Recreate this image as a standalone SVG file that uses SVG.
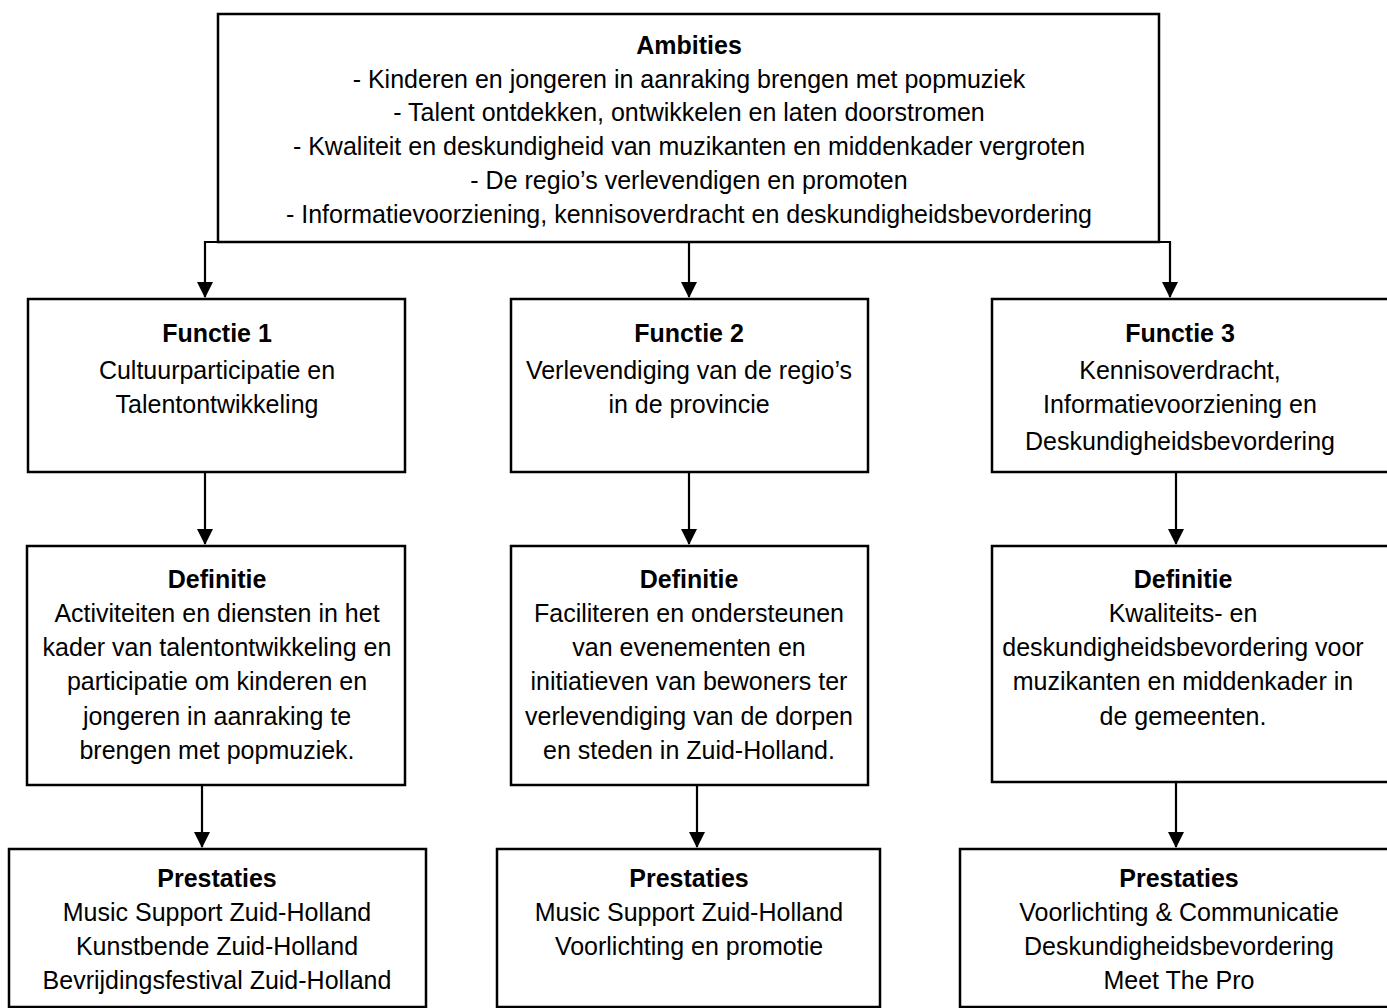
<svg xmlns="http://www.w3.org/2000/svg" width="1387" height="1008" viewBox="0 0 1387 1008">
<defs>
<marker id="ah" markerWidth="16" markerHeight="16" refX="15" refY="8" orient="auto" markerUnits="userSpaceOnUse">
<path d="M0,0 L16,8 L0,16 Z" fill="#000"/>
</marker>
<style>
.box{fill:#fff;stroke:#000;stroke-width:2.5}
.t{font-family:"Liberation Sans",Arial,sans-serif;font-size:25px;fill:#000;text-anchor:middle}
.b{font-weight:bold}
.c{fill:none;stroke:#000;stroke-width:2.2}
</style>
</defs>
<rect width="1387" height="1008" fill="#fff"/>
<g id="connectors">
<path class="c" d="M218,242 H205 V297" marker-end="url(#ah)"/>
<path class="c" d="M689,242 V297" marker-end="url(#ah)"/>
<path class="c" d="M1159,242 H1170 V297" marker-end="url(#ah)"/>
<path class="c" d="M205,472 V544" marker-end="url(#ah)"/>
<path class="c" d="M689,472 V544" marker-end="url(#ah)"/>
<path class="c" d="M1176,472 V544" marker-end="url(#ah)"/>
<path class="c" d="M202,785 V847" marker-end="url(#ah)"/>
<path class="c" d="M697,785 V847" marker-end="url(#ah)"/>
<path class="c" d="M1176,782 V847" marker-end="url(#ah)"/>
</g>
<g id="ambities">
<rect class="box" x="218" y="14" width="941" height="228"/>
<text class="t b" x="689" y="54">Ambities</text>
<text class="t" x="689" y="88">- Kinderen en jongeren in aanraking brengen met popmuziek</text>
<text class="t" x="689" y="121">- Talent ontdekken, ontwikkelen en laten doorstromen</text>
<text class="t" x="689" y="155">- Kwaliteit en deskundigheid van muzikanten en middenkader vergroten</text>
<text class="t" x="689" y="189">- De regio’s verlevendigen en promoten</text>
<text class="t" x="689" y="223">- Informatievoorziening, kennisoverdracht en deskundigheidsbevordering</text>
</g>
<g id="functie1">
<rect class="box" x="28" y="299" width="377" height="173"/>
<text class="t b" x="217" y="342">Functie 1</text>
<text class="t" x="217" y="379">Cultuurparticipatie en</text>
<text class="t" x="217" y="413">Talentontwikkeling</text>
</g>
<g id="functie2">
<rect class="box" x="511" y="299" width="357" height="173"/>
<text class="t b" x="689" y="342">Functie 2</text>
<text class="t" x="689" y="379">Verlevendiging van de regio’s</text>
<text class="t" x="689" y="413">in de provincie</text>
</g>
<g id="functie3">
<rect class="box" x="992" y="299" width="400" height="173"/>
<text class="t b" x="1180" y="342">Functie 3</text>
<text class="t" x="1180" y="379">Kennisoverdracht,</text>
<text class="t" x="1180" y="413">Informatievoorziening en</text>
<text class="t" x="1180" y="450">Deskundigheidsbevordering</text>
</g>
<g id="definitie1">
<rect class="box" x="27" y="546" width="378" height="239"/>
<text class="t b" x="217" y="588">Definitie</text>
<text class="t" x="217" y="622">Activiteiten en diensten in het</text>
<text class="t" x="217" y="656">kader van talentontwikkeling en</text>
<text class="t" x="217" y="690">participatie om kinderen en</text>
<text class="t" x="217" y="725">jongeren in aanraking te</text>
<text class="t" x="217" y="759">brengen met popmuziek.</text>
</g>
<g id="definitie2">
<rect class="box" x="511" y="546" width="357" height="239"/>
<text class="t b" x="689" y="588">Definitie</text>
<text class="t" x="689" y="622">Faciliteren en ondersteunen</text>
<text class="t" x="689" y="656">van evenementen en</text>
<text class="t" x="689" y="690">initiatieven van bewoners ter</text>
<text class="t" x="689" y="725">verlevendiging van de dorpen</text>
<text class="t" x="689" y="759">en steden in Zuid-Holland.</text>
</g>
<g id="definitie3">
<rect class="box" x="992" y="546" width="400" height="236"/>
<text class="t b" x="1183" y="588">Definitie</text>
<text class="t" x="1183" y="622">Kwaliteits- en</text>
<text class="t" x="1183" y="656">deskundigheidsbevordering voor</text>
<text class="t" x="1183" y="690">muzikanten en middenkader in</text>
<text class="t" x="1183" y="725">de gemeenten.</text>
</g>
<g id="prestaties1">
<rect class="box" x="9" y="849" width="417" height="158"/>
<text class="t b" x="217" y="887">Prestaties</text>
<text class="t" x="217" y="921">Music Support Zuid-Holland</text>
<text class="t" x="217" y="955">Kunstbende Zuid-Holland</text>
<text class="t" x="217" y="989">Bevrijdingsfestival Zuid-Holland</text>
</g>
<g id="prestaties2">
<rect class="box" x="497" y="849" width="383" height="158"/>
<text class="t b" x="689" y="887">Prestaties</text>
<text class="t" x="689" y="921">Music Support Zuid-Holland</text>
<text class="t" x="689" y="955">Voorlichting en promotie</text>
</g>
<g id="prestaties3">
<rect class="box" x="960" y="849" width="440" height="158"/>
<text class="t b" x="1179" y="887">Prestaties</text>
<text class="t" x="1179" y="921">Voorlichting &amp; Communicatie</text>
<text class="t" x="1179" y="955">Deskundigheidsbevordering</text>
<text class="t" x="1179" y="989">Meet The Pro</text>
</g>
</svg>
